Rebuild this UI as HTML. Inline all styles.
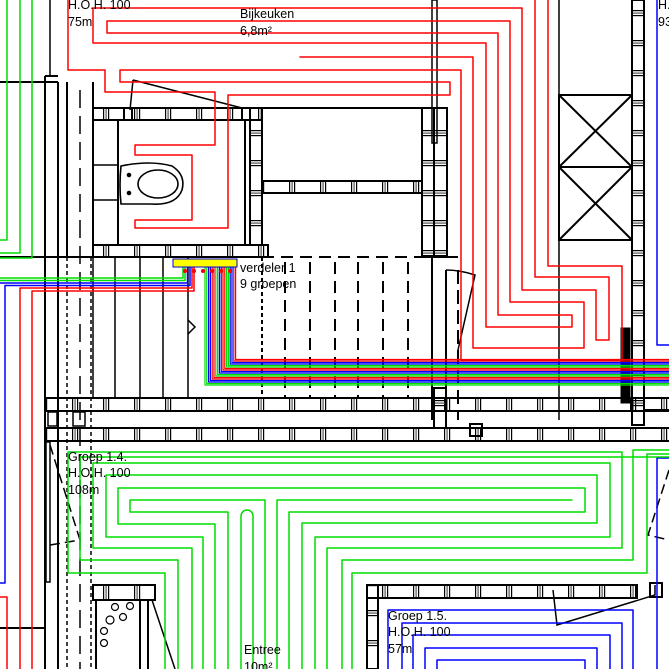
<!DOCTYPE html>
<html><head><meta charset="utf-8"><style>
html,body{margin:0;padding:0;background:#fff}
svg{display:block}
text{font-family:"Liberation Sans",sans-serif;font-size:12.5px;fill:#000}
</style></head><body>
<svg width="669" height="669" viewBox="0 0 669 669" xmlns="http://www.w3.org/2000/svg">
<defs>
<pattern id="hh" x="0" y="0" width="31" height="20" patternUnits="userSpaceOnUse">
<rect x="10" y="0" width="1.2" height="20" fill="#000"/><rect x="12.5" y="0" width="1.2" height="20" fill="#555"/><rect x="15" y="0" width="1.2" height="20" fill="#000"/>
</pattern>
<pattern id="hv" x="0" y="0" width="20" height="30" patternUnits="userSpaceOnUse">
<rect y="10" x="0" height="1.2" width="20" fill="#000"/><rect y="12.5" x="0" height="1.2" width="20" fill="#555"/><rect y="15" x="0" height="1.2" width="20" fill="#000"/>
</pattern>
</defs>
<rect width="669" height="669" fill="#fff"/>

<g stroke="#000" stroke-width="2" fill="none">
<rect x="45" y="398" width="630" height="13" fill="url(#hh)"/>
<rect x="45" y="428" width="630" height="13" fill="url(#hh)"/>
<line x1="45" y1="76" x2="45" y2="669"/>
<line x1="58" y1="82" x2="58" y2="669"/>
<line x1="67" y1="82" x2="67" y2="257"/>
<line x1="93" y1="82" x2="93" y2="257"/>
<line x1="0" y1="82" x2="58" y2="82"/>
<line x1="50" y1="0" x2="50" y2="76" stroke-width="1.5"/>
<line x1="45" y1="76" x2="58" y2="76"/>
<rect x="46" y="442" width="4" height="140" stroke-width="1.5"/>
<line x1="0" y1="628" x2="45" y2="628"/>
<line x1="0" y1="257" x2="268" y2="257"/>
<line x1="45" y1="398" x2="262" y2="398"/>
<line x1="115" y1="257" x2="115" y2="398" stroke-width="1.5"/>
<line x1="140" y1="257" x2="140" y2="398" stroke-width="1.5"/>
<line x1="163" y1="257" x2="163" y2="398" stroke-width="1.5"/>
<line x1="188" y1="257" x2="188" y2="398" stroke-width="1.5"/>
<line x1="93" y1="257" x2="93" y2="398" stroke-width="1.5"/>
<line x1="67" y1="257" x2="67" y2="669" stroke-width="1.5" stroke-dasharray="4,3"/>
<line x1="80" y1="90" x2="80" y2="669" stroke-width="1.5" stroke-dasharray="18,8"/>
<line x1="91" y1="257" x2="91" y2="669" stroke-width="1.5" stroke-dasharray="4,3"/>
<polyline points="188,320 195,327 188,334" stroke-width="1.5"/>
<g stroke-dasharray="12,7" stroke-width="2">
<line x1="262" y1="257" x2="432" y2="257"/>
<line x1="285" y1="262" x2="285" y2="398"/>
<line x1="310" y1="262" x2="310" y2="398"/>
<line x1="335" y1="262" x2="335" y2="398"/>
<line x1="358" y1="262" x2="358" y2="398"/>
<line x1="383" y1="262" x2="383" y2="398"/>
<line x1="408" y1="262" x2="408" y2="398"/>
<line x1="262" y1="257" x2="262" y2="398" stroke-dasharray="4,3"/>
</g>
<rect x="93" y="108" width="169" height="12" fill="url(#hh)"/>
<rect x="93" y="245" width="175" height="12" fill="url(#hh)"/>
<line x1="118" y1="120" x2="118" y2="245"/>
<line x1="245" y1="120" x2="245" y2="245"/>
<rect x="250" y="108" width="12" height="137" fill="url(#hv)"/>
<line x1="93" y1="165" x2="118" y2="165" stroke-width="1.5"/>
<line x1="93" y1="200" x2="118" y2="200" stroke-width="1.5"/>
<rect x="124" y="108" width="8" height="12"/>
<rect x="242" y="108" width="8" height="12"/>
<path d="M133,80 L130,110 M133,80 L242,108" stroke-width="1.5"/>
<path d="M121,166 Q150,160 172,166 Q186,175 182,190 Q176,206 150,204 L121,204 Q119,185 121,166 Z" stroke-width="1.6"/>
<ellipse cx="158" cy="184" rx="20" ry="14" stroke-width="1.6"/>
<circle cx="129" cy="175" r="1.3" fill="#000"/><circle cx="129" cy="193" r="1.3" fill="#000"/>
<line x1="262" y1="108" x2="422" y2="108"/>
<rect x="262" y="181" width="160" height="12" fill="url(#hh)"/>
<rect x="422" y="108" width="25" height="149" fill="url(#hv)"/>
<line x1="434" y1="108" x2="434" y2="257"/>
<rect x="432" y="0" width="5" height="143" stroke-width="1.5"/>
<line x1="432" y1="257" x2="458" y2="257"/>
<line x1="432" y1="257" x2="432" y2="420"/>
<line x1="446" y1="270" x2="446" y2="398"/>
<line x1="458" y1="270" x2="458" y2="420" stroke-dasharray="14,6"/>
<path d="M446,270 Q460,270 475,275 L458,350" stroke-width="1.5"/>
<rect x="434" y="388" width="12" height="40" fill="url(#hv)"/>
<rect x="470" y="424" width="12" height="12"/>
<line x1="559" y1="0" x2="559" y2="420" stroke-width="1.5"/>
<rect x="559" y="95" width="73" height="72"/>
<rect x="559" y="167" width="73" height="73"/>
<path d="M559,95 L632,167 M632,95 L559,167 M559,167 L632,240 M632,167 L559,240"/>
<rect x="632" y="0" width="12" height="425" fill="url(#hv)"/>
<rect x="621" y="328" width="9" height="75" fill="#000" stroke-width="1"/>
<line x1="644" y1="410" x2="669" y2="410"/>
<path d="M50,445 L80,540 L50,545" stroke-dasharray="10,5" stroke-width="1.5"/>
<rect x="48" y="412" width="9" height="14" stroke-width="1.5"/>
<rect x="73" y="412" width="12" height="14" stroke-width="1.5"/>
<rect x="93" y="585" width="62" height="15" fill="url(#hh)"/>
<line x1="96" y1="600" x2="96" y2="669"/>
<line x1="140" y1="600" x2="140" y2="669"/>
<line x1="148" y1="600" x2="148" y2="669"/>
<path d="M152,600 L175,669" stroke-width="1.5"/>
<g stroke-width="1.2">
<circle cx="115" cy="607" r="3.5"/><circle cx="130" cy="606" r="3.5"/>
<circle cx="110" cy="620" r="4"/><circle cx="123" cy="617" r="3.5"/>
<circle cx="104" cy="631" r="3.5"/><circle cx="104" cy="643" r="3.5"/>
</g>
<rect x="367" y="585" width="270" height="13" fill="url(#hh)"/>
<rect x="367" y="585" width="11" height="84" fill="url(#hv)"/>
<path d="M553,590 L557,625 L655,595 L655,585" stroke-width="1.5"/>
<rect x="650" y="583" width="12" height="14"/>
<path d="M669,470 L648,535 L669,540" stroke-dasharray="10,5" stroke-width="1.5"/>
</g>

<g fill="none" stroke-width="1.5" stroke-linejoin="round" stroke-linecap="round">
<g stroke="#f00">
<path d="M68,0 V70 H105 V92 H215 V145 H135 V155 H192 V220 H135 V228 H228 V95 H450 V82 H120 V70 H461 V360 H622 V266 H548 V0"/>
<path d="M535,0 V277 H609 V340 H596 V290 H522 V8 H93 V43 H486 V327 H572 V315 H498 V33 H107 V21 H510 V302 H584 V348 H473 V57 H300"/>
<path d="M20,669 V288 H192 V262"/>
<path d="M32,669 V291 H194 V262"/>
<path d="M0,597 H7 V669"/>
</g>
<g stroke="#0d0">
<path d="M7,0 V240 H0"/>
<path d="M20,0 V253 H0"/>
<path d="M32,0 V258 H0"/>
<path d="M0,278 H183 V262"/>
<path d="M0,280.5 H185 V262"/>
</g>
<g stroke="#00f">
<path d="M0,283 H187.5 V262"/>
<path d="M0,583 H5 V285.5 H190 V262"/>
<path d="M657,0 V345 H669"/>
<path d="M669,458 H657 V669"/>
<path d="M388,669 V610 H633 V669"/>
<path d="M402,669 V623 H622 V669"/>
<path d="M413,669 V635 H610 V669"/>
<path d="M425,669 V648 H597 V669"/>
<path d="M437,669 V660 H585 V669"/>
</g>
<g stroke-width="1.2">
<path stroke="#0d0" d="M205,262 V385 H669"/>
<path stroke="#0d0" d="M206.8,262 V383.5 H669"/>
<path stroke="#00f" d="M208.6,262 V382 H669"/>
<path stroke="#00f" d="M210.4,262 V380.5 H669"/>
<path stroke="#f00" d="M212.2,262 V379 H669"/>
<path stroke="#f00" d="M214,262 V377.5 H669"/>
<path stroke="#0d0" d="M215.8,262 V376 H669"/>
<path stroke="#0d0" d="M217.6,262 V374.5 H669"/>
<path stroke="#00f" d="M219.4,262 V373 H669"/>
<path stroke="#00f" d="M221.2,262 V371.5 H669"/>
<path stroke="#f00" d="M223,262 V370 H669"/>
<path stroke="#f00" d="M224.8,262 V368.5 H669"/>
<path stroke="#0d0" d="M226.6,262 V367 H669"/>
<path stroke="#0d0" d="M228.4,262 V365.5 H669"/>
<path stroke="#00f" d="M230.2,262 V364 H669"/>
<path stroke="#00f" d="M232,262 V362.5 H669"/>
<path stroke="#f00" d="M233.8,262 V361 H669"/>
<path stroke="#f00" d="M235.6,262 V359.5 H669"/>
</g>
<g stroke="#0d0">
<path d="M165,669 V573 H68 V452 H622 V548 H327 V669"/>
<path d="M178,669 V560 H80 V457 H669"/>
<path d="M192,669 V548 H93 V463 H610 V537 H315 V669"/>
<path d="M203,669 V537 H106 V475 H597 V523 H302 V669"/>
<path d="M215,669 V524 H118 V488 H585 V512 H289 V669"/>
<path d="M228,669 V512 H130 V500 H265 V669"/>
<path d="M241,669 V516 A6,6 0 0 1 253,516 V669"/>
<path d="M277,669 V500 H572"/>
<path d="M669,450 H633 V560 H342 V669"/>
<path d="M669,454 H647 V573 H352 V669"/>
</g>
</g>
<rect x="173" y="259" width="64" height="8" fill="#ff0" stroke="#00c" stroke-width="1"/>
<g fill="#f00"><circle cx="185" cy="271" r="2"/><circle cx="194" cy="271" r="2"/><circle cx="203" cy="271" r="2"/><circle cx="212" cy="271" r="2"/><circle cx="221" cy="271" r="2"/><circle cx="230" cy="271" r="2"/></g>

<text x="68" y="9">H.O.H. 100</text>
<text x="68" y="26">75m</text>
<text x="240" y="18">Bijkeuken</text>
<text x="240" y="35">6,8m²</text>
<text x="240" y="272">verdeler 1</text>
<text x="240" y="288">9 groepen</text>
<text x="68" y="461">Groep 1.4.</text>
<text x="68" y="477">H.O.H. 100</text>
<text x="68" y="494">108m</text>
<text x="388" y="620">Groep 1.5.</text>
<text x="388" y="636">H.O.H. 100</text>
<text x="388" y="653">57m</text>
<text x="244" y="654">Entree</text>
<text x="244" y="671">10m²</text>
<text x="658" y="9">H.</text>
<text x="658" y="26">93</text>
</svg>
</body></html>
